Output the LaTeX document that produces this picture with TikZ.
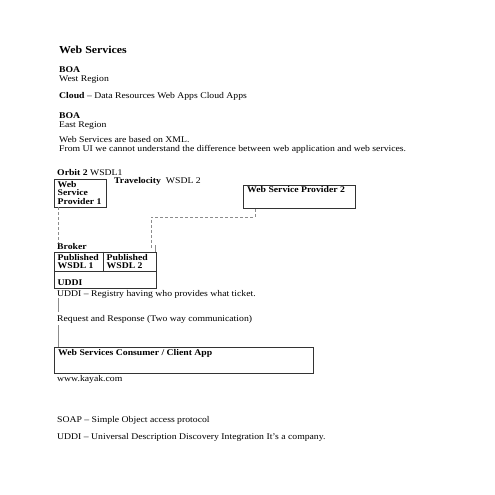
\documentclass[tikz,border=0pt]{standalone}
\usepackage{fontspec}
\setmainfont{Liberation Serif}[FakeStretch=1.11]
\usetikzlibrary{calc}
\begin{document}
\begin{tikzpicture}[x=1bp,y=-1bp,
  txt/.style={inner sep=0pt,anchor=base west,font=\fontsize{8.75bp}{10bp}\selectfont},
  btxt/.style={txt,font=\fontsize{8.75bp}{10bp}\selectfont\bfseries},
  ttl/.style={inner sep=0pt,anchor=base west,font=\fontsize{10.7bp}{12bp}\selectfont\bfseries},
  boxline/.style={draw=black!80,line width=0.9bp},
  frame/.style={boxline,rectangle,inner sep=0pt,anchor=north west},
  dashlink/.style={draw=black!45,dash pattern=on 3bp off 2bp,line width=0.7bp},
  thinlink/.style={draw=black!45,line width=0.6bp}
]
\useasboundingbox (0,0) rectangle (495,495);
\fill[white] (0,0) rectangle (495,495);

\node[ttl] (title) at (59,54) {Web Services};
\node[btxt] (boa1) at (59,72.5) {BOA};
\node[txt] (west) at (59,81.5) {West Region};
\node[txt] (cloud) at (59,99) {\textbf{Cloud} -- Data Resources Web Apps Cloud Apps};
\node[btxt] (boa2) at (59,118.5) {BOA};
\node[txt] (east) at (59,127.5) {East Region};
\node[txt] (xml) at (59,142.5) {Web Services are based on XML.};
\node[txt] (ui) at (59,151.5) {From UI we cannot understand the difference between web application and web services.};

\node[txt] (orbit) at (57,175.5) {\textbf{Orbit 2} WSDL1};
\node[txt] (trav) at (114,183.5) {\textbf{Travelocity}\hspace{5bp}WSDL 2};

% Web Service Provider 1
\node[frame,minimum width=52bp,minimum height=27.5bp] (wsp1) at (54,179) {};
\node[btxt] (wsp1a) at (57.5,187.5) {Web};
\node[btxt] (wsp1b) at (57.5,196) {Service};
\node[btxt] (wsp1c) at (57.5,204.5) {Provider 1};

% Web Service Provider 2
\node[frame,minimum width=112bp,minimum height=23bp] (wsp2) at (243,185) {};
\node[btxt] (wsp2t) at (247,193) {Web Service Provider 2};

% Broker
\node[btxt] (broker) at (57,249) {Broker};
\node[frame,minimum width=102bp,minimum height=36.5bp] (brk) at (54,251.5) {};
\draw[boxline] (brk.west |- 0,271) -- (brk.east |- 0,271);
\draw[boxline] (103,0 |- brk.north) -- (103,271);
\node[btxt] (pub1a) at (57.5,260) {Published};
\node[btxt] (pub1b) at (57.5,268.5) {WSDL 1};
\node[btxt] (pub2a) at (106.5,260) {Published};
\node[btxt] (pub2b) at (106.5,268.5) {WSDL 2};
\node[btxt] (uddi) at (57.5,285) {UDDI};

\node[txt] (reg) at (57,296) {UDDI -- Registry having who provides what ticket.};
\node[txt] (req) at (57,321.5) {Request and Response (Two way communication)};

% Consumer
\node[frame,minimum width=259bp,minimum height=26bp] (cons) at (54,347) {};
\node[btxt] (const) at (58,355.5) {Web Services Consumer / Client App};
\node[txt] (kayak) at (57,381.5) {www.kayak.com};

\node[txt] (soap) at (57,422.5) {SOAP -- Simple Object access protocol};
\node[txt] (uddi2) at (57,439.5) {UDDI -- Universal Description Discovery Integration It's a company.};

% connectors
\coordinate (c1) at (58,243);
\draw[dashlink] ($(wsp1.south west)+(4,0)$) -- (c1);
\coordinate (c2) at (255,217);
\coordinate (c3) at (151,217);
\coordinate (c4) at (151,248);
\draw[dashlink] (wsp2.south -| c2) -- (c2) -- (c3) -- (c4);
\draw[thinlink] (155,245) -- (155,0 |- brk.north);
\draw[thinlink] (58,298) -- (58,312);
\draw[thinlink] (58,325) -- (58,0 |- cons.north);
\end{tikzpicture}
\end{document}
